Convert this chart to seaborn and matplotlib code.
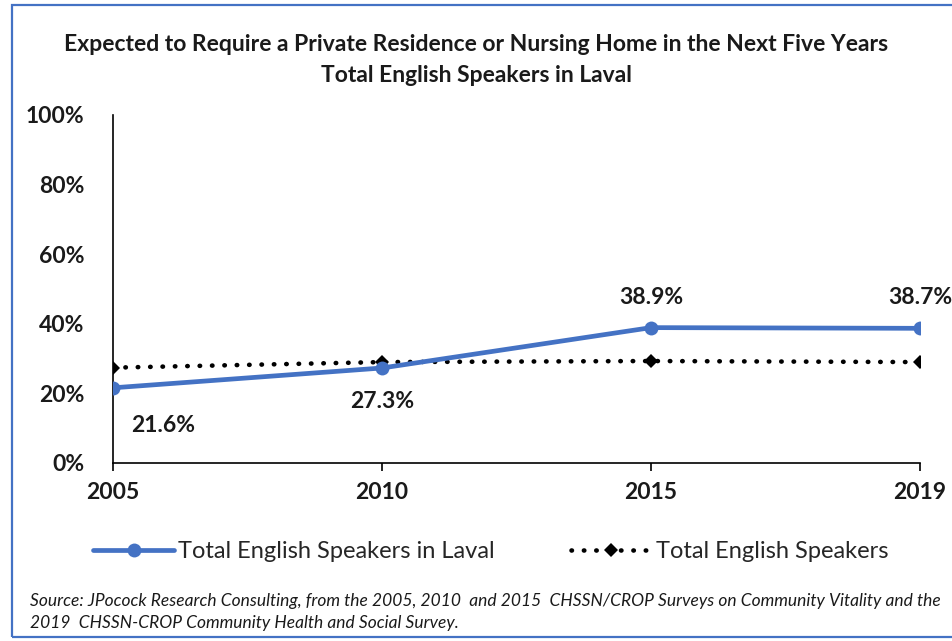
import matplotlib
matplotlib.use('Agg')
import matplotlib.pyplot as plt
import seaborn as sns
import pandas as pd
from matplotlib.patches import Rectangle
from matplotlib.ticker import PercentFormatter

years = ['2005', '2010', '2015', '2019']
laval = [21.6, 27.3, 38.9, 38.7]
total = [27.4, 29.0, 29.3, 29.0]

sns.set_style('white')
plt.rcParams['font.family'] = ['Lato', 'DejaVu Sans']

fig = plt.figure(figsize=(9.53, 6.41), dpi=100)
ax = fig.add_axes([0.1186, 0.2777, 0.8468, 0.5429])

df = pd.DataFrame({'Year': years * 2,
                   'Value': laval + total,
                   'Series': ['Total English Speakers in Laval'] * 4 + ['Total English Speakers'] * 4})

sns.lineplot(data=df[df['Series'] == 'Total English Speakers'], x='Year', y='Value', ax=ax,
             color='black', linewidth=3.3, linestyle=(0, (0.1, 2.6)), dash_capstyle='round',
             marker='D', markersize=7, markeredgewidth=0, label='Total English Speakers', zorder=2)
sns.lineplot(data=df[df['Series'] == 'Total English Speakers in Laval'], x='Year', y='Value', ax=ax,
             color='#4472C4', linewidth=3.4, marker='o', markersize=10, markeredgewidth=0,
             solid_capstyle='round', label='Total English Speakers in Laval', zorder=3)

# data labels
offsets = [(36, -27), (0, -24), (0, 22), (0, 22)]
for i, (v, off) in enumerate(zip(laval, offsets)):
    ax.annotate(f'{v:.1f}%', (i, v), xytext=off, textcoords='offset points',
                ha='center', va='center',
                fontsize=16.5, fontweight='bold', color='#1a1a1a')

ax.set_ylim(0, 100)
ax.set_xlim(0, 3)
ax.set_yticks([0, 20, 40, 60, 80, 100])
ax.yaxis.set_major_formatter(PercentFormatter(decimals=0))
ax.set_xlabel('')
ax.set_ylabel('')
for s in ['top', 'right']:
    ax.spines[s].set_visible(False)
for s in ['left', 'bottom']:
    ax.spines[s].set_color('black')
    ax.spines[s].set_linewidth(1.2)
ax.tick_params(axis='x', bottom=True, length=6, width=1.2, color='black', pad=8)
ax.tick_params(axis='y', left=False, pad=17)
for lab in ax.get_xticklabels() + ax.get_yticklabels():
    lab.set_fontweight('bold')
    lab.set_fontsize(16.5)
    lab.set_color('#1a1a1a')

handles, labels = ax.get_legend_handles_labels()
ax.legend(handles[::-1], labels[::-1], loc='center', bbox_to_anchor=(0.468, -0.255), ncol=2,
          frameon=False, fontsize=17, columnspacing=3.2, handlelength=3.4, handletextpad=0.2,
          labelcolor='#262626')

fig.text(0.5, 0.93, 'Expected to Require a Private Residence or Nursing Home in the Next Five Years',
         ha='center', va='center', fontsize=16.5, fontweight='bold', color='#1a1a1a')
fig.text(0.5, 0.882, 'Total English Speakers in Laval',
         ha='center', va='center', fontsize=16.5, fontweight='bold', color='#1a1a1a')

fig.text(0.032, 0.063, 'Source: JPocock Research Consulting, from the 2005, 2010  and 2015  CHSSN/CROP Surveys on Community Vitality and the',
         ha='left', va='center', fontsize=12.5, style='italic', color='#1a1a1a')
fig.text(0.032, 0.028, '2019  CHSSN-CROP Community Health and Social Survey.',
         ha='left', va='center', fontsize=12.5, style='italic', color='#1a1a1a')

# frame: right edge is cut off in the reference
fig.patches.append(Rectangle((12 / 953, 4 / 641), 1.0, 632 / 641, transform=fig.transFigure,
                             fill=False, edgecolor='#4472C4', linewidth=1.6))

fig.savefig('out.png', dpi=100)
